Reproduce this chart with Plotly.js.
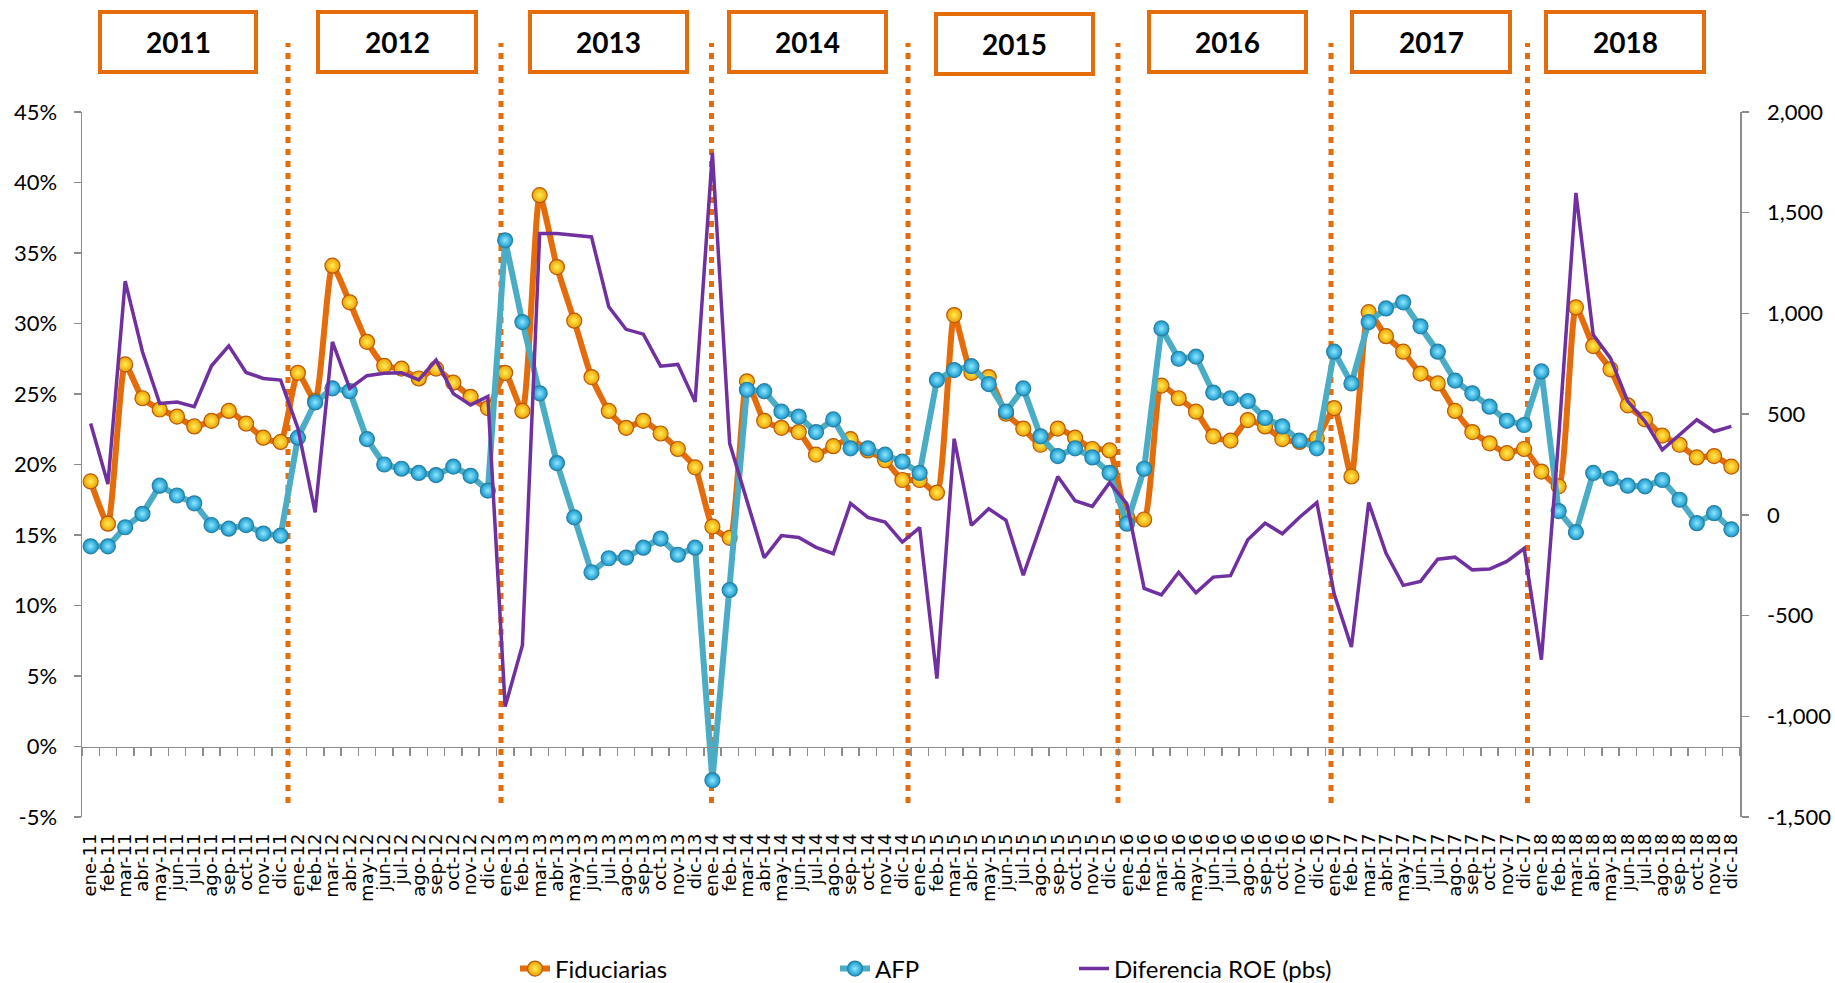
<!DOCTYPE html>
<html>
<head>
<meta charset="utf-8">
<script src="https://cdn.plot.ly/plotly-3.0.1.min.js"></script>
<style>
  html, body { margin: 0; padding: 0; background: #ffffff; }
  #chart { width: 1835px; height: 983px; }
</style>
</head>
<body>
<div id="chart"></div>
<script>
// ---- data ----
const months = ["ene", "feb", "mar", "abr", "may", "jun", "jul", "ago", "sep", "oct", "nov", "dic"];
const years = ["11", "12", "13", "14", "15", "16", "17", "18"];
const yearLabels = ["2011", "2012", "2013", "2014", "2015", "2016", "2017", "2018"];

const fiduciarias = [
  18.8, 15.8, 27.1, 24.7, 23.9, 23.4, 22.7, 23.1, 23.8, 22.9, 21.9, 21.6,
  26.5, 24.5, 34.1, 31.5, 28.7, 27.0, 26.8, 26.1, 26.8, 25.8, 24.8, 24.0,
  26.5, 23.8, 39.1, 34.0, 30.2, 26.2, 23.8, 22.6, 23.1, 22.2, 21.1, 19.8,
  15.6, 14.8, 25.9, 23.1, 22.6, 22.3, 20.7, 21.3, 21.8, 21.0, 20.3, 18.9,
  18.9, 18.0, 30.6, 26.5, 26.2, 23.6, 22.55, 21.4, 22.55, 21.9, 21.1, 21.0,
  16.3, 16.1, 25.6, 24.7, 23.75, 22.0, 21.7, 23.15, 22.7, 21.8, 21.6, 21.85,
  24.0, 19.15, 30.8, 29.1, 28.0, 26.45, 25.75, 23.8, 22.3, 21.5, 20.8, 21.1,
  19.5, 18.45, 31.15, 28.4, 26.75, 24.2, 23.2, 22.05, 21.4, 20.5, 20.6, 19.85
];

const afp = [
  14.2, 14.2, 15.55, 16.5, 18.5, 17.8, 17.25, 15.7, 15.45, 15.7, 15.1, 14.95,
  21.9, 24.4, 25.4, 25.2, 21.8, 20.0, 19.7, 19.4, 19.25, 19.85, 19.2, 18.15,
  35.9, 30.1, 25.05, 20.1, 16.25, 12.35, 13.35, 13.4, 14.1, 14.75, 13.6, 14.1,
  -2.4, 11.1, 25.3, 25.2, 23.75, 23.4, 22.3, 23.2, 21.15, 21.15, 20.7, 20.2,
  19.4, 26.0, 26.7, 26.97, 25.7, 23.75, 25.4, 22.0, 20.6, 21.15, 20.5, 19.4,
  15.8, 19.7, 29.65, 27.5, 27.65, 25.1, 24.7, 24.5, 23.3, 22.7, 21.7, 21.15,
  28.0, 25.75, 30.1, 31.07, 31.5, 29.8, 28.0, 25.95, 25.05, 24.1, 23.1, 22.8,
  26.6, 16.7, 15.2, 19.4, 19.0, 18.5, 18.45, 18.9, 17.5, 15.84, 16.55, 15.4
];

const diferenciaROE = [
  454, 153, 1160, 810, 553, 560, 537, 740, 839, 707, 677, 669,
  430, 12, 859, 628, 691, 703, 705, 670, 768, 602, 546, 588,
  -952, -647, 1397, 1397, 1388, 1380, 1033, 921, 897, 738, 747, 561,
  1797, 355, 70, -213, -103, -112, -161, -193, 57, -13, -36, -135,
  -63, -813, 378, -52, 30, -27, -300, -55, 190, 70, 42, 160,
  55, -365, -397, -285, -387, -309, -302, -124, -41, -94, -12, 61,
  -392, -656, 61, -190, -350, -330, -220, -210, -273, -269, -231, -167,
  -719, 380, 1598, 894, 778, 563, 464, 323, 397, 472, 414, 439
];

const leftTickVals = [-5, 0, 5, 10, 15, 20, 25, 30, 35, 40, 45];
const leftTickText = ["-5%", "0%", "5%", "10%", "15%", "20%", "25%", "30%", "35%", "40%", "45%"];
const rightTickVals = [-1500, -1000, -500, 0, 500, 1000, 1500, 2000];
const rightTickText = ["-1,500", "-1,000", "-500", "0", "500", "1,000", "1,500", "2,000"];

// ---- categories ----
const categories = [];
years.forEach(y => months.forEach(m => categories.push(m + "-" + y)));

// ---- layout geometry (pixels) ----
const PL = 82, PR = 1740, PT = 112, PB = 817;
const PW = PR - PL, PH = PB - PT;
const fx = px => (px - PL) / PW;
const fy = py => (PB - py) / PH;

const ORANGE = "#E46C0A";
const AXIS = "#8C8C8C";
const FONT = "Lato, 'Open Sans', sans-serif";

// year boxes (pixel extents) and separator lines
const boxX = [[100, 256], [318, 476], [530, 687], [729, 886], [936, 1093], [1149, 1306], [1352, 1510], [1546, 1704]];
const boxY = [[12, 72], [12, 72], [12, 72], [12, 72], [14, 74], [12, 72], [12, 72], [12, 72]];
const sepX = [288, 501, 711.5, 908, 1118, 1331, 1527.5];

const shapes = [];
const annotations = [];
sepX.forEach(px => {
  shapes.push({
    type: "line", xref: "paper", yref: "paper", layer: "below",
    x0: fx(px), x1: fx(px), y0: fy(803), y1: fy(43),
    line: { color: ORANGE, width: 5, dash: "6px,6px" }
  });
});
boxX.forEach((bx, i) => {
  shapes.push({
    type: "rect", xref: "paper", yref: "paper", layer: "above",
    x0: fx(bx[0]), x1: fx(bx[1]), y0: fy(boxY[i][1]), y1: fy(boxY[i][0]),
    fillcolor: "#ffffff", line: { color: ORANGE, width: 4 }
  });
  annotations.push({
    xref: "paper", yref: "paper", showarrow: false,
    x: fx((bx[0] + bx[1]) / 2), y: fy((boxY[i][0] + boxY[i][1]) / 2),
    xanchor: "center", yanchor: "middle",
    text: "<b>" + yearLabels[i] + "</b>",
    font: { family: FONT, size: 28, color: "#000000" }
  });
});

const traces = [
  {
    name: "Fiduciarias", x: categories, y: fiduciarias,
    xaxis: "x", yaxis: "y", type: "scatter", mode: "lines+markers",
    line: { color: ORANGE, width: 6, shape: "spline", smoothing: 0.5 },
    marker: { size: 15, color: "#EE9F00", gradient: { type: "radial", color: "#FFEE55" },
              line: { color: "#B85A08", width: 1.2 } },
    legend: "legend"
  },
  {
    name: "AFP", x: categories, y: afp,
    xaxis: "x", yaxis: "y", type: "scatter", mode: "lines+markers",
    line: { color: "#4BACC6", width: 6 },
    marker: { size: 15, color: "#1496CC", gradient: { type: "radial", color: "#8FE8FF" },
              line: { color: "#2A7FA0", width: 1.2 } },
    legend: "legend2"
  },
  {
    name: "Diferencia ROE (pbs)", x: categories, y: diferenciaROE,
    xaxis: "x2", yaxis: "y2", type: "scatter", mode: "lines",
    line: { color: "#7030A0", width: 3.5 },
    legend: "legend3"
  }
];

const legendBase = {
  orientation: "h", yanchor: "middle", xanchor: "left",
  bgcolor: "rgba(0,0,0,0)", borderwidth: 0,
  font: { family: FONT, size: 24, color: "#000000" }
};

const layout = {
  width: 1835, height: 983,
  paper_bgcolor: "#ffffff", plot_bgcolor: "#ffffff",
  margin: { l: PL, r: 1835 - PR, t: PT, b: 983 - PB, autoexpand: false },
  font: { family: FONT, color: "#000000" },
  showlegend: true,
  xaxis: {
    type: "category", categoryorder: "array", categoryarray: categories,
    range: [-0.5, 95.5], anchor: "free", position: 0.1,
    showline: true, linecolor: AXIS, linewidth: 1.5,
    ticks: "outside", tickson: "boundaries", ticklen: 8, tickcolor: AXIS, tickwidth: 1.5,
    showticklabels: false, showgrid: false, zeroline: false, fixedrange: true
  },
  xaxis2: {
    type: "category", categoryorder: "array", categoryarray: categories,
    range: [-0.5, 95.5], overlaying: "x", anchor: "y2", side: "bottom",
    tickmode: "array", tickvals: categories, ticktext: categories,
    showline: false, ticks: "", showticklabels: true, tickangle: -90,
    ticklabelstandoff: 12,
    tickfont: { family: "'DejaVu Sans', sans-serif", size: 18, color: "#000000" },
    showgrid: false, zeroline: false, fixedrange: true
  },
  yaxis: {
    range: [-5, 45], tickvals: leftTickVals, ticktext: leftTickText,
    showline: true, linecolor: AXIS, linewidth: 1.5,
    ticks: "outside", ticklen: 7, tickcolor: AXIS, tickwidth: 1.5,
    ticklabelstandoff: 12,
    tickfont: { family: FONT, size: 22, color: "#000000" },
    showgrid: false, zeroline: false, fixedrange: true
  },
  yaxis2: {
    range: [-1500, 2000], tickvals: rightTickVals, ticktext: rightTickText,
    overlaying: "y", side: "right", anchor: "x2",
    showline: true, linecolor: AXIS, linewidth: 1.5,
    ticks: "outside", ticklen: 7, tickcolor: AXIS, tickwidth: 1.5,
    ticklabelstandoff: 14,
    tickfont: { family: FONT, size: 22, color: "#000000" },
    showgrid: false, zeroline: false, fixedrange: true
  },
  legend: Object.assign({}, legendBase, { x: fx(515), y: fy(969) }),
  legend2: Object.assign({}, legendBase, { x: fx(835), y: fy(969) }),
  legend3: Object.assign({}, legendBase, { x: fx(1074), y: fy(969) }),
  shapes: shapes,
  annotations: annotations
};

Plotly.newPlot("chart", traces, layout, { displayModeBar: false, staticPlot: true });
</script>
</body>
</html>
